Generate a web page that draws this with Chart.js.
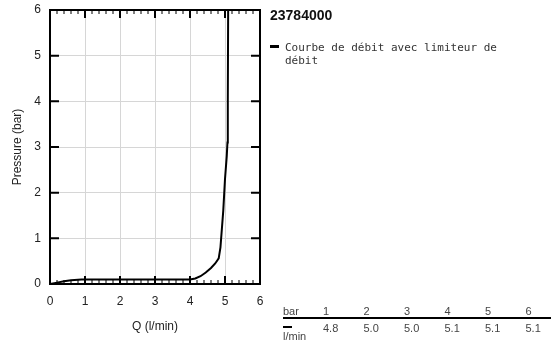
<!DOCTYPE html>
<html>
<head>
<meta charset="utf-8">
<script src="https://cdn.jsdelivr.net/npm/chart.js@4"></script>
<style>
    body { margin: 0; background: #fff; }
    #wrap { position: relative; width: 551px; height: 349px; }
    #chart { position: absolute; left: 0; top: 0; }
    .title { position: absolute; left: 270px; top: 7px; font: bold 14px "Liberation Sans", Arial, sans-serif; color: #111; }
    .legend { position: absolute; left: 285px; top: 41px; width: 240px; font: 11px "DejaVu Sans Mono", monospace; color: #333; line-height: 13px; }
    .legend-line { position: absolute; left: 270px; top: 45px; width: 9px; height: 3px; background: #000; }
    .tbl { position: absolute; left: 283px; top: 305px; font: 11px "Liberation Sans", Arial, sans-serif; color: #444; }
    .tbl table { border-collapse: collapse; table-layout: fixed; width: 263px; }
    .tbl td { padding: 0; width: 40.5px; text-align: left; vertical-align: top; }
    .tbl td.lbl { width: 40px; }
    .tbl tr.head td { height: 11px; border-bottom: 2px solid #000; }
    .tbl tr.vals td { padding-top: 3px; }
    .dash { display: block; width: 9px; height: 2px; background: #000; margin-top: 4px; margin-bottom: 2px; }
</style>
</head>
<body>
<div id="wrap">
    <canvas id="chart" width="551" height="349"></canvas>
    <div class="title" id="title"></div>
    <div class="legend-line"></div>
    <div class="legend" id="legend"></div>
    <div class="tbl" id="tbl"></div>
</div>
<script>
// Flow curve
const flowQ = [0, 0.2, 0.4, 0.6, 0.9, 2, 3, 4.0, 4.15, 4.3, 4.45, 4.6, 4.72, 4.82, 4.87, 4.95, 5.0, 5.05, 5.07, 5.08, 5.09];
const pressure = [0, 0.03, 0.06, 0.08, 0.1, 0.1, 0.1, 0.1, 0.12, 0.17, 0.25, 0.35, 0.45, 0.56, 0.8, 1.6, 2.3, 2.8, 3.1, 4.0, 6.0];

const productCode = '23784000';
const seriesLabel = 'Courbe de débit avec limiteur de débit';

// table under the legend
const tablePressures = ['1', '2', '3', '4', '5', '6'];
const tableFlows = ['4.8', '5.0', '5.0', '5.1', '5.1', '5.1'];

const xTitle = 'Q (l/min)';
const yTitle = 'Pressure (bar)';

document.getElementById('title').textContent = productCode;
document.getElementById('legend').textContent = seriesLabel;

function buildTable() {
    let head = '<tr class="head"><td class="lbl">bar</td>' + tablePressures.map(p => `<td>${p}</td>`).join('') + '</tr>';
    let vals = '<tr class="vals"><td class="lbl"><span class="dash"></span>l/min</td>' + tableFlows.map(v => `<td>${v}</td>`).join('') + '</tr>';
    document.getElementById('tbl').innerHTML = `<table>${head}${vals}</table>`;
}
buildTable();

// frame + inward ticks like the original plot
const framePlugin = {
    id: 'frame',
    afterDraw(chart) {
        const { ctx, chartArea: a, scales: { x, y } } = chart;
        ctx.save();
        ctx.strokeStyle = '#000';
        for (let i = 0; i <= 30; i++) {
            const v = i / 5;
            const px = x.getPixelForValue(v);
            const major = i % 5 === 0;
            const len = major ? 8 : 4;
            ctx.lineWidth = major ? 2 : 1;
            ctx.beginPath();
            ctx.moveTo(px, a.bottom); ctx.lineTo(px, a.bottom - len);
            ctx.moveTo(px, a.top); ctx.lineTo(px, a.top + len);
            ctx.stroke();
        }
        ctx.lineWidth = 2;
        for (let i = 0; i <= 6; i++) {
            const py = y.getPixelForValue(i);
            ctx.beginPath();
            ctx.moveTo(a.left, py); ctx.lineTo(a.left + 9, py);
            ctx.moveTo(a.right, py); ctx.lineTo(a.right - 9, py);
            ctx.stroke();
        }
        ctx.lineWidth = 2;
        ctx.strokeRect(a.left, a.top, a.right - a.left, a.bottom - a.top);
        ctx.restore();
    }
};

const font = { family: '"Liberation Sans", Arial, sans-serif', size: 12 };

new Chart(document.getElementById('chart'), {
    type: 'line',
    data: {
        datasets: [{
            label: seriesLabel,
            data: flowQ.map((q, i) => ({ x: q, y: pressure[i] })),
            borderColor: '#000',
            borderWidth: 2,
            pointRadius: 0,
            tension: 0,
            fill: false
        }]
    },
    options: {
        responsive: false,
        animation: false,
        layout: { padding: { top: 10, right: 291, left: 0, bottom: 0 } },
        plugins: { legend: { display: false }, tooltip: { enabled: false } },
        scales: {
            x: {
                type: 'linear', min: 0, max: 6,
                afterFit: s => { s.height = 65; s.paddingLeft = 0; s.paddingRight = 0; },
                ticks: { stepSize: 1, padding: 10, color: '#222', font, maxRotation: 0 },
                grid: { color: '#d6d6d6', drawTicks: false },
                border: { display: false },
                title: { display: true, text: xTitle, color: '#222', font, padding: { top: 0, bottom: 15 } }
            },
            y: {
                type: 'linear', min: 0, max: 6,
                afterFit: s => { s.width = 50; s.paddingTop = 0; s.paddingBottom = 0; },
                ticks: { stepSize: 1, padding: 9, color: '#222', font },
                grid: { color: '#d6d6d6', drawTicks: false },
                border: { display: false },
                title: { display: true, text: yTitle, color: '#222', font, padding: { top: 10, bottom: 0 } }
            }
        }
    },
    plugins: [framePlugin]
});
</script>
</body>
</html>
